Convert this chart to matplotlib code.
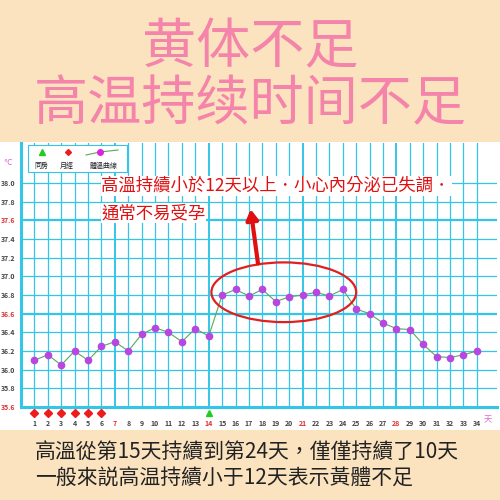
import matplotlib
matplotlib.use("Agg")
import matplotlib.pyplot as plt
from matplotlib.patches import Ellipse, Rectangle
import numpy as np

plt.rcParams['font.family'] = ['Noto Sans CJK TC', 'DejaVu Sans']

days = list(range(1, 35))
temps = [36.10, 36.16, 36.05, 36.20, 36.10, 36.25, 36.30, 36.20, 36.38, 36.45,
         36.40, 36.30, 36.44, 36.36, 36.80, 36.86, 36.79, 36.86, 36.73, 36.78,
         36.80, 36.83, 36.79, 36.86, 36.65, 36.60, 36.50, 36.44, 36.43, 36.27,
         36.14, 36.13, 36.16, 36.20]
menses_days = [1, 2, 3, 4, 5, 6]
intercourse_days = [14]
yticks = [35.6, 35.8, 36.0, 36.2, 36.4, 36.6, 36.8, 37.0, 37.2, 37.4, 37.6, 37.8, 38.0]
red_yticks = [35.6, 36.6, 37.6]
red_days = [7, 14, 21, 28]

peach = '#fbe3c0'
cyan = '#33c6e6'
fig = plt.figure(figsize=(5, 5), dpi=100, facecolor=peach)
fig.patches.append(Rectangle((0.0, 1 - 430/500), 1.0, (430-142)/500, transform=fig.transFigure,
                             facecolor='white', edgecolor='none', zorder=-5))

ax = fig.add_axes([0.042, 1 - 407/500, 0.952, (407-143)/500])
ax.set_zorder(1)
ax.set_facecolor('white')
ax.set_xlim(0, 35.5)
ax.set_ylim(35.6, 38.43)
for y in yticks[1:]:
    ax.axhline(y, color=cyan, lw=1.6 if y in (36.6, 37.6) else 0.9, zorder=1)
for d in days:
    ax.axvline(d, color=cyan, lw=1.4 if d in red_days else 0.9, zorder=1)
for s in ['top', 'right']:
    ax.spines[s].set_visible(False)
for s in ['left', 'bottom']:
    ax.spines[s].set_color(cyan)
    ax.spines[s].set_linewidth(2.2)

ax.set_yticks(yticks)
ax.set_yticklabels([f"{v:.1f}" for v in yticks], fontsize=5, fontweight='bold')
for lab, v in zip(ax.get_yticklabels(), yticks):
    lab.set_color('#e03030' if v in red_yticks else '#444444')
ax.set_xticks(days)
ax.set_xticklabels([str(d) for d in days], fontsize=5, fontweight='bold')
for lab, d in zip(ax.get_xticklabels(), days):
    lab.set_color('#e03030' if d in red_days else '#444444')
ax.tick_params(axis='y', length=0, pad=4)
ax.tick_params(axis='x', length=0, pad=9)

ax.plot(days, temps, color='#5aa85a', lw=0.8, zorder=3, clip_on=False)
ax.plot(days, temps, 'o', color='#b846e0', ms=4.5, zorder=4, clip_on=False)

ax.plot(menses_days, [35.54]*len(menses_days), 'D', color='#ee1c1c', ms=4, clip_on=False, zorder=5)
ax.plot(intercourse_days, [35.54], '^', color='#22cc22', ms=5, clip_on=False, zorder=5)

ax.add_patch(Ellipse((19.6, 36.83), 10.8, 0.64, fill=False, edgecolor='#e02020', lw=1.6, zorder=5))
ax.annotate('', xy=(17.1, 37.75), xytext=(17.7, 37.11),
            arrowprops=dict(arrowstyle='-|>,head_width=0.35,head_length=0.6', color='#e01010', lw=3), zorder=6)
tb = dict(facecolor='white', edgecolor='none', pad=0.5)
ax.text(6.0, 37.97, '高溫持續小於12天以上．小心內分泌已失調．', color='#e01010', fontsize=12.5,
        ha='left', va='center', zorder=6, bbox=tb)
ax.text(6.0, 37.68, '通常不易受孕', color='#e01010', fontsize=12.5, ha='left', va='center', zorder=6, bbox=tb)

# legend box
leg = Rectangle((28/500, 1 - 172/500), 99/500, 27/500, transform=fig.transFigure,
                facecolor='white', edgecolor=cyan, lw=0.8, zorder=10)
fig.artists.append(leg); leg.set_figure(fig)
def fl(*a, **k):
    l = plt.Line2D(*a, transform=fig.transFigure, **k)
    l.set_figure(fig); fig.lines.append(l)
fl([42/500], [1 - 152/500], marker='^', color='#22cc22', ms=4, zorder=11)
fl([68/500], [1 - 152/500], marker='D', color='#ee1c1c', ms=3, zorder=11)
fl([86/500, 100/500, 118/500], [1 - 155/500, 1 - 152/500, 1 - 150/500], color='#5aa85a', lw=0.8, zorder=11)
fl([100/500], [1 - 152/500], marker='o', color='#dd22dd', ms=4, zorder=12)
for x, t in [(41, '同房'), (67, '月經'), (104, '體溫曲線')]:
    fig.text(x/500, 1 - 166/500, t, fontsize=5, ha='center', va='center', color='#222222', zorder=12)
fig.text(8/500, 1 - 162/500, '℃', fontsize=5.5, color='#dd66cc', ha='center', va='center', family=['DejaVu Sans'])
fig.text(488/500, 1 - 420/500, '天', fontsize=6, color='#dd66cc', ha='center', va='center')

pink = '#f584aa'
fig.text(0.5, 1 - 48/500, '黄体不足', fontsize=39, color=pink, ha='center', va='center', family=['Noto Sans CJK SC'])
fig.text(0.5, 1 - 105/500, '高温持续时间不足', fontsize=39, color=pink, ha='center', va='center', family=['Noto Sans CJK SC'])

fig.text(35/500, 1 - 452/500, '高溫從第15天持續到第24天，僅僅持續了10天', fontsize=15, color='#222222', ha='left', va='center')
fig.text(35/500, 1 - 479/500, '一般來説高温持續小于12天表示黃體不足', fontsize=15, color='#222222', ha='left', va='center')

fig.savefig('out.png', dpi=100, facecolor=peach)
